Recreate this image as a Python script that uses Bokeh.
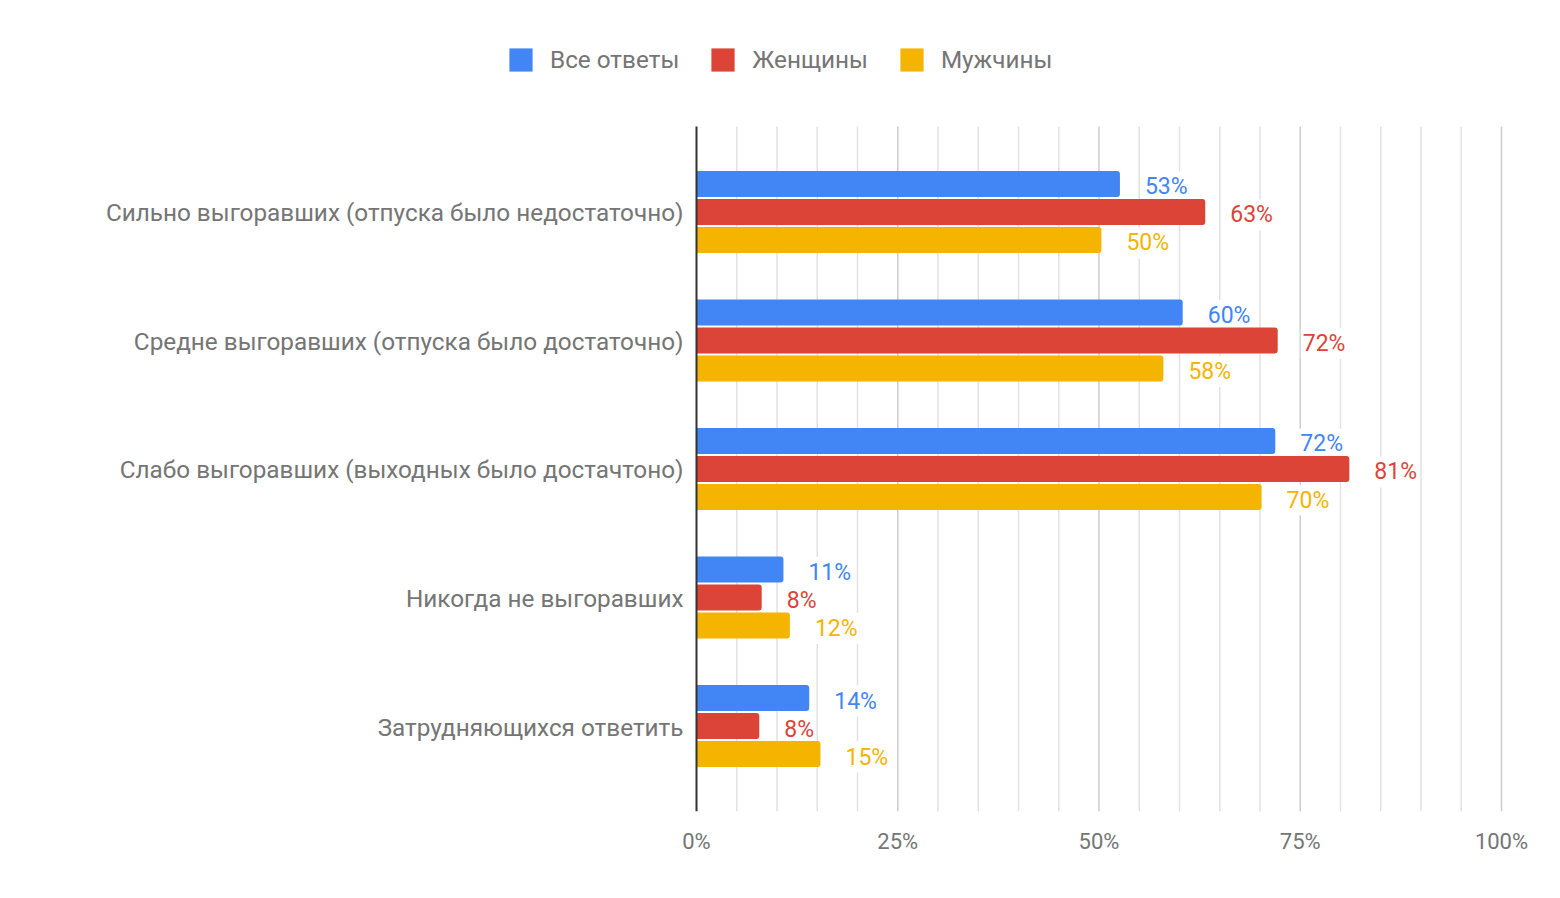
from bokeh.plotting import figure
from bokeh.models import Range1d, FixedTicker, Legend, LegendItem, ColumnDataSource
from bokeh.core.properties import value
from bokeh.embed import file_html
from bokeh.resources import INLINE

categories = [
    "Сильно выгоравших (отпуска было недостаточно)",
    "Средне выгоравших (отпуска было достаточно)",
    "Слабо выгоравших (выходных было достачтоно)",
    "Никогда не выгоравших",
    "Затрудняющихся ответить",
]
series_names = ["Все ответы", "Женщины", "Мужчины"]
all_answers = [52.6, 60.4, 71.9, 10.8, 14.0]
women = [63.2, 72.2, 81.1, 8.1, 7.8]
men = [50.3, 58.0, 70.2, 11.6, 15.4]
x_ticks = [0, 25, 50, 75, 100]
x_tick_labels = ["0%", "25%", "50%", "75%", "100%"]
minor_ticks = [t for t in range(5, 100, 5) if t % 25 != 0]

colors = ["#4285F4", "#DB4437", "#F4B400"]
offsets = [-0.218, 0.0, 0.218]
FONT = "Roboto"
GRAY = "#757575"

W, H = 1544, 882
# frame covers the whole width; 0% sits at 696px, 100% at 1501px
PX_PER_PCT = 8.05
X0_PX = 696
x_start = -X0_PX / PX_PER_PCT
x_end = (W - X0_PX) / PX_PER_PCT
BOTTOM_BORDER = 71
PX_PER_ROW = 128.52
y_bottom = 4.665
y_top = y_bottom - (H - BOTTOM_BORDER) / PX_PER_ROW
grid_y0, grid_y1 = -0.665, 4.665

p = figure(width=W, height=H, output_backend="svg", toolbar_location=None,
           x_range=Range1d(x_start, x_end), y_range=Range1d(y_bottom, y_top),
           y_axis_type=None,
           min_border_left=0, min_border_right=0,
           min_border_top=0, min_border_bottom=BOTTOM_BORDER)
p.outline_line_color = None
p.background_fill_color = "white"
p.xgrid.visible = False
p.ygrid.visible = False

# grid lines (drawn through the data scales)
p.segment(x0=minor_ticks, x1=minor_ticks, y0=grid_y0, y1=grid_y1,
          line_color="#e2e2e2", line_width=1.5)
p.segment(x0=x_ticks[1:], x1=x_ticks[1:], y0=grid_y0, y1=grid_y1,
          line_color="#cccccc", line_width=1.5)

# x axis
p.xaxis.ticker = FixedTicker(ticks=x_ticks)
p.xaxis.major_label_overrides = {t: l for t, l in zip(x_ticks, x_tick_labels)}
p.xaxis.axis_line_color = None
p.xaxis.major_tick_line_color = None
p.xaxis.minor_tick_line_color = None
p.xaxis.major_tick_out = 0
p.xaxis.major_tick_in = 0
p.xaxis.major_label_text_font = FONT
p.xaxis.major_label_text_font_size = "22px"
p.xaxis.major_label_text_color = GRAY
p.xaxis.major_label_standoff = 17

# category labels
p.text(x=[0] * len(categories), y=list(range(len(categories))), text=categories,
       x_offset=-13, y_offset=1, text_align="right", text_baseline="middle",
       text_font=value(FONT), text_font_size="24.3px", text_color=GRAY)

items = []
for name, vals, col, off in zip(series_names, [all_answers, women, men], colors, offsets):
    src = ColumnDataSource(dict(
        y=[i + off for i in range(len(categories))],
        right=vals,
        lab=[f"{v:.0f}%" for v in vals],
    ))
    r = p.hbar(y="y", left=0, right="right", height=0.202, source=src,
               fill_color=col, line_color=None, border_radius=(0, 3, 3, 0))
    p.text(x="right", y="y", text="lab", source=src, x_offset=23, y_offset=3,
           text_align="left", text_baseline="middle",
           text_font=value(FONT), text_font_size="23px", text_color=col,
           background_fill_color="white", padding=2)
    items.append(LegendItem(label=name, renderers=[r]))

# baseline at 0%
p.segment(x0=[0], x1=[0], y0=grid_y0, y1=grid_y1, line_color="#333333", line_width=2)

legend = Legend(items=items, orientation="horizontal", location=(506, 737),
                label_text_font=FONT, label_text_font_size="24.3px",
                label_text_color=GRAY, glyph_width=29, glyph_height=29,
                label_height=29, label_standoff=15, spacing=29,
                padding=0, margin=0, border_line_color=None,
                background_fill_alpha=0)
p.add_layout(legend, "center")

open("out.html", "w").write(file_html(p, INLINE))
